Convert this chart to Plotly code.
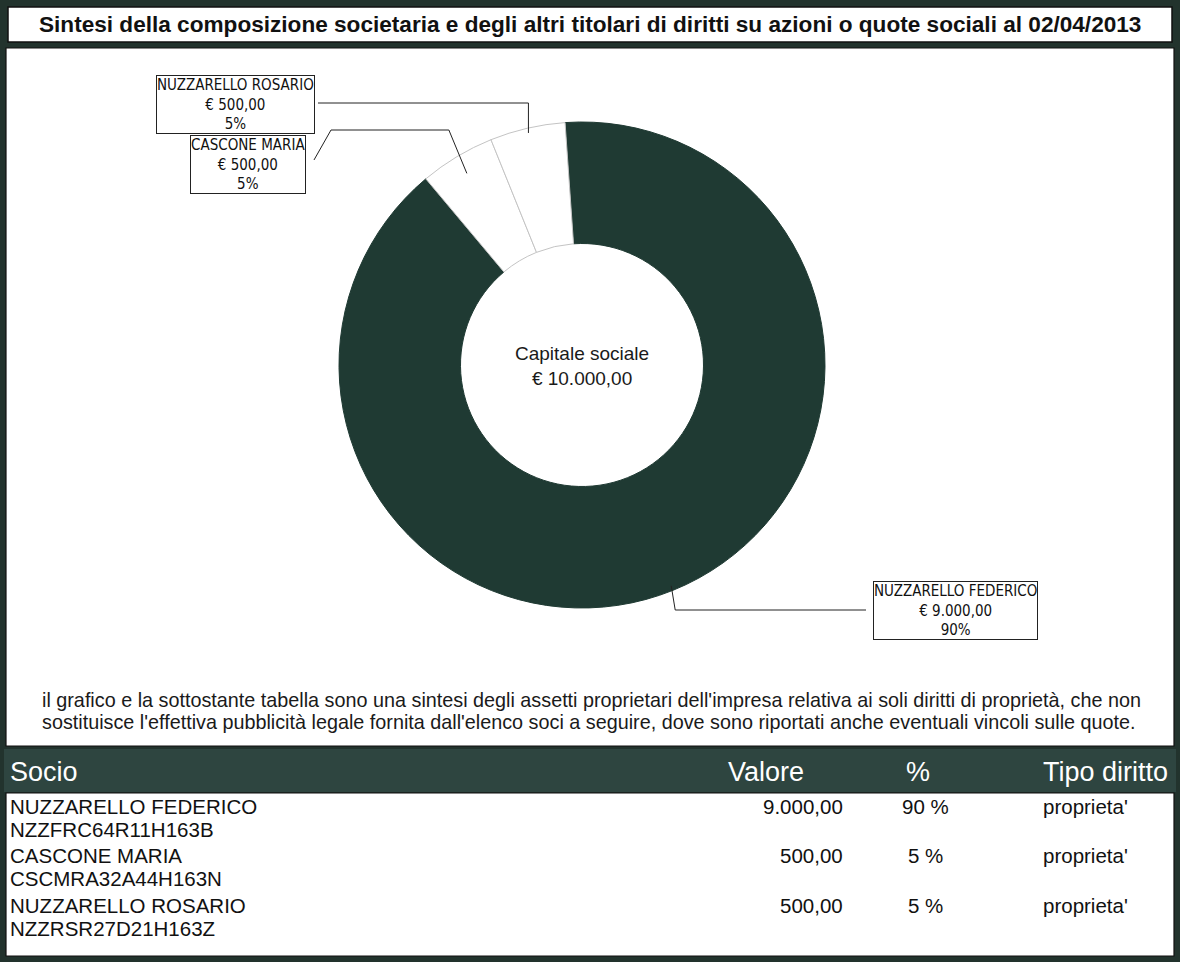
import math
import plotly.graph_objects as go

W, H = 1180, 962

# ---------------- data ----------------
titolo = ("Sintesi della composizione societaria e degli altri titolari di diritti "
          "su azioni o quote sociali al 02/04/2013")
soci = ["NUZZARELLO FEDERICO", "CASCONE MARIA", "NUZZARELLO ROSARIO"]
codici_fiscali = ["NZZFRC64R11H163B", "CSCMRA32A44H163N", "NZZRSR27D21H163Z"]
valori = [9000.00, 500.00, 500.00]
percentuali = [90, 5, 5]
tipo_diritto = ["proprieta'", "proprieta'", "proprieta'"]
capitale_sociale = 10000.00
colonne = ["Socio", "Valore", "%", "Tipo diritto"]
nota = [
    "il grafico e la sottostante tabella sono una sintesi degli assetti proprietari dell'impresa "
    "relativa ai soli diritti di proprietà, che non",
    "sostituisce l'effettiva pubblicità legale fornita dall'elenco soci a seguire, dove sono "
    "riportati anche eventuali vincoli sulle quote.",
]

# ---------------- style ----------------
BORDER = "#22332d"
HEADER = "#2e4540"
DARK = "#1f3a33"
SLICE_COLORS = [DARK, "#ffffff", "#ffffff"]
SLICE_LINES = [DARK, "#c4c4c4", "#c4c4c4"]
SANS = "Liberation Sans, Arial, Helvetica, sans-serif"
NARROW = "Liberation Sans Narrow, Arial Narrow, Liberation Sans, Arial, sans-serif"
COND = "DejaVu Sans Condensed, DejaVu Sans, Verdana, sans-serif"


def px(x):
    return x / W


def py(y):
    return 1 - y / H


def euro(v):
    s = f"{v:,.2f}"
    return s.replace(",", "#").replace(".", ",").replace("#", ".")


fig = go.Figure()

# ---------------- panels ----------------
shapes = []


def rect(x0, y0, x1, y1, fill, line=None, lw=1.2, layer="below"):
    shapes.append(dict(type="rect", xref="paper", yref="paper",
                       x0=px(x0), x1=px(x1), y0=py(y1), y1=py(y0),
                       fillcolor=fill, layer=layer,
                       line=dict(color=line or fill, width=lw if line else 0)))


rect(8, 7, 1172, 42, "#ffffff", "#111111", 1.5)        # title box
rect(6, 48, 1174, 746, "#ffffff", "#111111", 1.2)       # chart panel
rect(4, 749, 1176, 792, HEADER)                          # table header
rect(6, 793, 1174, 956, "#ffffff", "#111111", 1.2)      # table body

# ---------------- donut ----------------
CX, CY, R = 582, 365, 243
ROT = -4
HOLE = 0.5
fig.add_trace(go.Pie(
    labels=soci, values=valori, sort=False, direction="clockwise",
    rotation=ROT, hole=HOLE, textinfo="none",
    marker=dict(colors=SLICE_COLORS, line=dict(color=SLICE_LINES, width=1)),
    hovertemplate="%{label}<br>€ %{value:,.2f}<br>%{percent}<extra></extra>",
    showlegend=False,
    domain=dict(x=[px(CX - R), px(CX + R)], y=[py(CY + R), py(CY - R)]),
))

total = sum(valori)
mids = []
start = ROT
for v in valori:
    span = v / total * 360
    mids.append(start + span / 2)
    start += span


def on_ring(angle, frac):
    a = math.radians(angle)
    return CX + R * frac * math.sin(a), CY - R * frac * math.cos(a)


annotations = []

# center label
annotations.append(dict(
    x=px(CX), y=py(CY + 1), xref="paper", yref="paper", showarrow=False,
    text=f"Capitale sociale<br>€ {euro(capitale_sociale)}",
    font=dict(family=SANS, size=19, color="#1a1a1a"), align="center",
    xanchor="center", yanchor="middle"))

# callout boxes (layout)
callout_boxes = {
    0: dict(cx=955, cy=610),
    1: dict(cx=248, cy=164),
    2: dict(cx=235, cy=105),
}
anchor_frac = {0: 0.98, 1: 0.92, 2: 0.98}


def leader(i, ax, ay):
    if i == 2:
        pts = [(ax, ay), (ax, 103), (318, 103)]
    elif i == 1:
        pts = [(ax, ay), (ax - 18, 130), (331, 130), (314, 160)]
    else:
        pts = [(ax, ay), (ax + 4, 610), (866, 610)]
    return "M " + " L ".join(f"{px(x):.5f},{py(y):.5f}" for x, y in pts)


for i, name in enumerate(soci):
    ax, ay = on_ring(mids[i], anchor_frac[i])
    shapes.append(dict(type="path", xref="paper", yref="paper", path=leader(i, ax, ay),
                       line=dict(color="#222222", width=1), layer="above"))
    b = callout_boxes[i]
    annotations.append(dict(
        x=px(b["cx"]), y=py(b["cy"]), xref="paper", yref="paper", showarrow=False,
        text=f"{name}<br>€ {euro(valori[i])}<br>{percentuali[i]}%",
        font=dict(family=COND, size=15, color="#111111"), align="center",
        xanchor="center", yanchor="middle",
        bgcolor="#ffffff", bordercolor="#222222", borderwidth=1, borderpad=0))

# title
annotations.append(dict(
    x=px(590), y=py(25), xref="paper", yref="paper", showarrow=False,
    text=f"<b>{titolo}</b>", font=dict(family=NARROW, size=22.6, color="#111111"),
    xanchor="center", yanchor="middle"))

# note
for k, line in enumerate(nota):
    annotations.append(dict(
        x=px(40), y=py(700 + 22 * k), xref="paper", yref="paper", showarrow=False,
        text=line, font=dict(family=SANS, size=19.8, color="#1a1a1a"),
        xanchor="left", yanchor="middle"))

# table header
header_pos = [(8, "left"), (806, "right"), (918, "center"), (1170, "right")]
for (x, anc), col in zip(header_pos, colonne):
    annotations.append(dict(
        x=px(x), y=py(772), xref="paper", yref="paper", showarrow=False,
        text=col, font=dict(family=SANS, size=27, color="#ffffff"),
        xanchor=anc, yanchor="middle"))

# table rows
ROW_FONT = dict(family=SANS, size=20.5, color="#111111")
for i in range(len(soci)):
    y0 = 806 + 49.5 * i
    for txt, x, anc, y in [
        (soci[i], 8, "left", y0),
        (codici_fiscali[i], 8, "left", y0 + 23),
        (euro(valori[i]), 845, "right", y0),
        (f"{percentuali[i]} %", 925, "center", y0),
        (tipo_diritto[i], 1085, "center", y0),
    ]:
        annotations.append(dict(
            x=px(x), y=py(y), xref="paper", yref="paper", showarrow=False,
            text=txt, font=ROW_FONT, xanchor=anc, yanchor="middle"))

fig.update_layout(
    width=W, height=H, autosize=False,
    margin=dict(l=0, r=0, t=0, b=0, pad=0),
    paper_bgcolor=BORDER, plot_bgcolor=BORDER,
    shapes=shapes, annotations=annotations,
    showlegend=False,
)

fig.write_html("out.html",
               config={"displayModeBar": False},
               post_script="document.body.style.margin='0';"
                           "document.body.style.overflow='hidden';")
